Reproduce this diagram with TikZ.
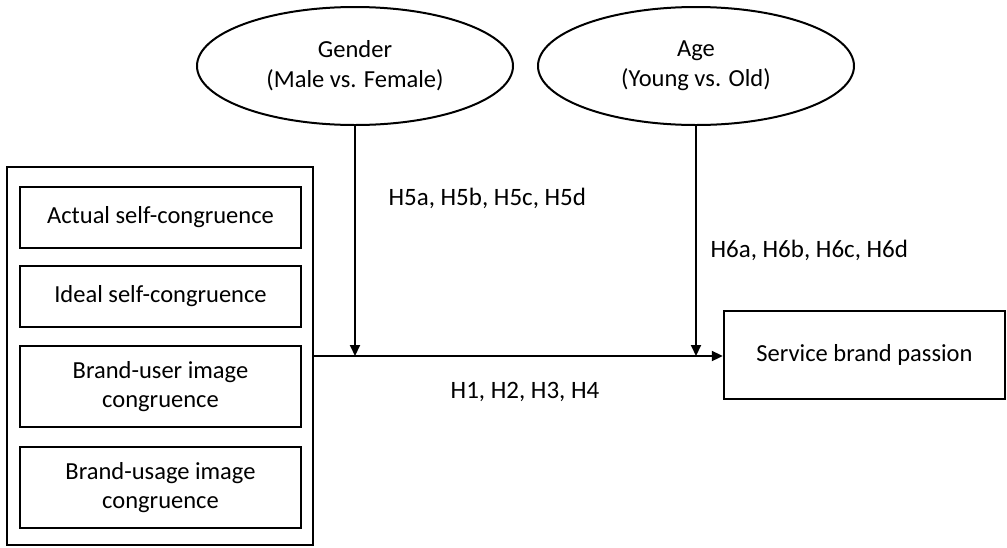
\documentclass[tikz,border=0pt]{standalone}
\usepackage{fontspec}
\setmainfont{Carlito}
\usetikzlibrary{arrows.meta,shapes.geometric}
\tikzset{
  congbox/.style={draw,line width=2.4pt,minimum width=281pt,align=center,font=\fontsize{24.5}{29}\selectfont},
  moderator/.style={draw,ellipse,line width=2pt,minimum width=316pt,minimum height=118pt,align=center,font=\fontsize{24.5}{30}\selectfont},
  hyplabel/.style={font=\fontsize{25}{30}\selectfont},
  link/.style={line width=2pt,-{Triangle[length=11pt,width=10pt]}}
}
\newcommand{\hypnode}[4]{\node[hyplabel,anchor=#4] (#1) at #2 {#3};}
\begin{document}
\begin{tikzpicture}[x=1pt,y=-1pt]
\useasboundingbox (0,0) rectangle (1007,547);
% left block with the four congruence boxes
\node[draw,line width=2.4pt,minimum width=306pt,minimum height=378pt] (drivers) at (160,356) {};
\node[congbox,minimum height=61pt] (actual) at (160.5,217.5) {Actual self-congruence};
\node[congbox,minimum height=61pt] (ideal) at (160.5,296.5) {Ideal self-congruence};
\node[congbox,minimum height=81pt] (user) at (160.5,386.5) {Brand-user image\\congruence};
\node[congbox,minimum height=81pt] (usage) at (160.5,487.5) {Brand-usage image\\congruence};
% outcome
\node[congbox,minimum height=88pt] (passion) at (864.5,355) {Service brand passion};
% moderators
\node[moderator] (gender) at (355,66) {Gender\\(Male vs. Female)};
\node[moderator] (age) at (696,66) {Age\\(Young vs. Old)};
\coordinate (gmeet) at (gender.south |- drivers.east);
\coordinate (ameet) at (age.south |- drivers.east);
\draw[link] (drivers.east) -- (passion.west |- drivers.east);
\draw[link] (gender.south) -- (gmeet);
\draw[link] (age.south) -- (ameet);
% hypotheses
\hypnode{hfive}{(385,198)}{H5a, H5b, H5c, H5d}{west}
\hypnode{hsix}{(707,250)}{H6a, H6b, H6c, H6d}{west}
\hypnode{hmain}{(525,392)}{H1, H2, H3, H4}{center}
\end{tikzpicture}
\end{document}
